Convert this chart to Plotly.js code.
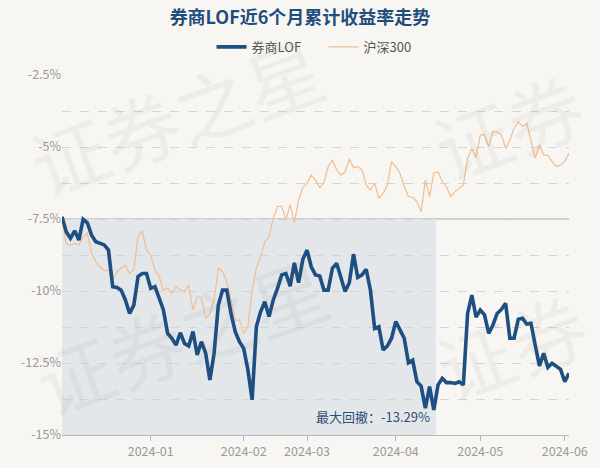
<!DOCTYPE html>
<html>
<head>
<meta charset="utf-8">
<script src="https://cdn.plot.ly/plotly-3.0.1.min.js"></script>
<style>
html,body{margin:0;padding:0;background:#f8f6f2;}
#chart{width:600px;height:468px;}
</style>
</head>
<body>
<div id="chart"></div>
<script>
const dates = [
"2023-12-01","2023-12-04","2023-12-05","2023-12-06","2023-12-07","2023-12-08",
"2023-12-11","2023-12-12","2023-12-13","2023-12-14","2023-12-15",
"2023-12-18","2023-12-19","2023-12-20","2023-12-21","2023-12-22",
"2023-12-25","2023-12-26","2023-12-27","2023-12-28","2023-12-29",
"2024-01-02","2024-01-03","2024-01-04","2024-01-05",
"2024-01-08","2024-01-09","2024-01-10","2024-01-11","2024-01-12",
"2024-01-15","2024-01-16","2024-01-17","2024-01-18","2024-01-19",
"2024-01-22","2024-01-23","2024-01-24","2024-01-25","2024-01-26",
"2024-01-29","2024-01-30","2024-01-31",
"2024-02-01","2024-02-02","2024-02-05","2024-02-06","2024-02-07","2024-02-08",
"2024-02-19","2024-02-20","2024-02-21","2024-02-22","2024-02-23",
"2024-02-26","2024-02-27","2024-02-28","2024-02-29",
"2024-03-01","2024-03-04","2024-03-05","2024-03-06","2024-03-07","2024-03-08",
"2024-03-11","2024-03-12","2024-03-13","2024-03-14","2024-03-15",
"2024-03-18","2024-03-19","2024-03-20","2024-03-21","2024-03-22",
"2024-03-25","2024-03-26","2024-03-27","2024-03-28","2024-03-29",
"2024-04-01","2024-04-02","2024-04-03",
"2024-04-08","2024-04-09","2024-04-10","2024-04-11","2024-04-12",
"2024-04-15","2024-04-16","2024-04-17","2024-04-18","2024-04-19",
"2024-04-22","2024-04-23","2024-04-24","2024-04-25","2024-04-26",
"2024-04-29","2024-04-30",
"2024-05-06","2024-05-07","2024-05-08","2024-05-09","2024-05-10",
"2024-05-13","2024-05-14","2024-05-15","2024-05-16","2024-05-17",
"2024-05-20","2024-05-21","2024-05-22","2024-05-23","2024-05-24",
"2024-05-27","2024-05-28","2024-05-29","2024-05-30","2024-05-31",
"2024-06-03","2024-06-04"
];

const fundLOF = [
-7.42,-7.94,-8.17,-7.91,-8.23,-7.51,-7.63,-8.06,-8.29,-8.35,
-8.40,-8.58,-9.85,-9.88,-9.97,-10.31,-10.78,-10.49,-9.50,-9.39,
-9.39,-9.91,-9.85,-10.25,-10.66,-11.47,-11.64,-11.88,-11.45,-11.82,
-11.91,-11.41,-12.22,-11.76,-12.16,-13.09,-12.16,-10.49,-9.97,-9.97,
-10.78,-11.41,-11.76,-11.99,-12.74,-13.78,-11.24,-10.72,-10.37,-10.89,
-10.31,-9.91,-9.44,-9.39,-9.83,-9.02,-9.71,-8.90,-8.58,-9.16,
-9.44,-9.48,-9.97,-9.97,-9.21,-9.04,-9.56,-10.02,-9.71,-8.72,
-9.53,-9.44,-9.25,-9.97,-11.30,-11.24,-12.05,-11.91,-11.64,-11.06,
-11.35,-11.64,-12.49,-12.40,-13.15,-13.30,-14.07,-13.32,-14.13,-13.26,
-13.03,-13.18,-13.18,-13.21,-13.15,-13.26,-10.78,-10.14,-10.91,-10.66,
-10.83,-11.47,-11.18,-10.78,-10.64,-10.43,-11.64,-11.64,-10.98,-10.95,
-11.15,-11.12,-11.88,-12.60,-12.16,-12.65,-12.51,-12.60,-12.72,-13.15,
-12.86
];

const hs300 = [
-7.51,-8.35,-8.40,-8.35,-8.40,-8.11,-8.00,-8.69,-8.98,-9.16,
-9.29,-9.27,-9.62,-9.33,-9.21,-9.10,-9.39,-9.25,-8.11,-7.91,
-8.58,-8.75,-9.27,-9.50,-9.97,-9.91,-10.08,-9.85,-9.97,-10.02,
-9.79,-10.66,-10.20,-10.25,-10.95,-10.80,-10.31,-9.21,-9.33,-9.68,
-10.31,-11.01,-11.01,-11.47,-11.24,-9.97,-9.21,-8.81,-8.29,-8.11,
-7.48,-7.07,-7.05,-7.53,-7.01,-7.63,-6.84,-6.41,-6.26,-5.97,
-6.15,-6.41,-6.24,-5.68,-5.45,-5.80,-5.97,-5.86,-5.42,-5.71,
-5.68,-5.80,-6.32,-6.49,-6.26,-6.78,-6.61,-6.32,-5.51,-5.68,
-5.91,-6.38,-6.72,-6.75,-6.90,-7.25,-6.15,-6.72,-5.91,-5.86,
-6.20,-6.38,-6.72,-6.55,-6.44,-6.32,-5.39,-5.05,-5.36,-4.58,
-4.58,-4.99,-4.47,-4.47,-4.58,-5.05,-4.76,-4.35,-4.12,-4.29,
-4.18,-4.76,-5.39,-4.93,-5.28,-5.28,-5.51,-5.68,-5.63,-5.51,
-5.22
];

const seriesNames = ["券商LOF", "沪深300"];
const xTickVals = ["2024-01-02","2024-02-01","2024-03-01","2024-04-01","2024-05-06","2024-06-03"];
const xTickText = ["2024-01","2024-02","2024-03","2024-04","2024-05","2024-06"];
const yTickVals = [-15,-13.75,-12.5,-11.25,-10,-8.75,-7.5,-6.25,-5,-3.75,-2.5];
const yTickText = ["-15%","","-12.5%","","-10%","","-7.5%","","-5%","","-2.5%"];
const baseLine = -7.5;
const drawdownLabel = "最大回撤：-13.29%";
const drawdownEndIndex = 88.5;
const watermarkFull = "证券之星";
const watermarkCut = "证券";

const FONT = "'Noto Sans CJK SC', 'Noto Sans', sans-serif";

const traces = [
  {
    x: dates, y: hs300, name: seriesNames[1], type: "scatter", mode: "lines",
    line: {color: "#f2bd8f", width: 1.2},
    legendrank: 2, hoverinfo: "skip"
  },
  {
    x: dates, y: fundLOF, name: seriesNames[0], type: "scatter", mode: "lines",
    line: {color: "#1d4f82", width: 3.6},
    legendrank: 1, hoverinfo: "skip"
  }
];

const wmPos = [
  {x: 0.225, y: 0.89, t: watermarkFull}, {x: 0.88, y: 0.86, t: watermarkCut},
  {x: 0.235, y: 0.28, t: watermarkFull}, {x: 0.885, y: 0.25, t: watermarkCut}
];
const wm = wmPos.map(p => ({
  xref: "paper", yref: "paper", x: p.x, y: p.y, text: p.t, showarrow: false,
  textangle: -20, font: {family: FONT, size: 76, color: "rgba(120,120,120,0.07)"},
  xanchor: "center", yanchor: "middle"
}));

const layout = {
  width: 600, height: 468,
  paper_bgcolor: "#f8f6f2", plot_bgcolor: "#f8f6f2",
  margin: {l: 62, r: 31, t: 75, b: 33},
  font: {family: FONT, color: "#999"},
  title: {
    text: "<b>券商LOF近6个月累计收益率走势</b>",
    font: {family: FONT, size: 18, color: "#1f4e7d"},
    x: 0.5, xanchor: "center", y: 0.962, yanchor: "middle"
  },
  showlegend: true,
  legend: {
    orientation: "h", x: 0.295, xanchor: "left", y: 1.078, yanchor: "middle",
    font: {family: FONT, size: 13, color: "#555"},
    bgcolor: "rgba(0,0,0,0)", itemwidth: 30, entrywidth: 67
  },
  xaxis: {
    type: "category", range: [0, 120],
    tickmode: "array", tickvals: xTickVals, ticktext: xTickText,
    showgrid: false, zeroline: false,
    showline: true, linecolor: "#b8b8b8", linewidth: 1,
    ticks: "outside", ticklen: 5, tickcolor: "#b8b8b8",
    tickfont: {family: FONT, size: 12.5, color: "#999"}
  },
  yaxis: {
    range: [-15, -2.5], tickmode: "array", tickvals: yTickVals, ticktext: yTickText,
    showgrid: true, gridcolor: "#d4d4d4", griddash: "dash", gridwidth: 1,
    zeroline: false, showline: false, ticks: "",
    tickfont: {family: FONT, size: 12.5, color: "#999"}
  },
  shapes: [
    {type: "rect", xref: "x", yref: "y", x0: 0, x1: drawdownEndIndex, y0: -15, y1: baseLine,
     fillcolor: "#e4e7ea", line: {width: 0}, layer: "below"},
    {type: "line", xref: "paper", yref: "y", x0: 0, x1: 1, y0: baseLine, y1: baseLine,
     line: {color: "#cfcfcf", width: 2}, layer: "below"}
  ],
  annotations: wm.concat([
    {xref: "x", yref: "y", x: 87.6, y: -14.35, text: drawdownLabel, showarrow: false,
     xanchor: "right", yanchor: "middle",
     font: {family: FONT, size: 13, color: "#2d4e76"}}
  ])
};

Plotly.newPlot("chart", traces, layout, {displayModeBar: false, staticPlot: true});
</script>
</body>
</html>
